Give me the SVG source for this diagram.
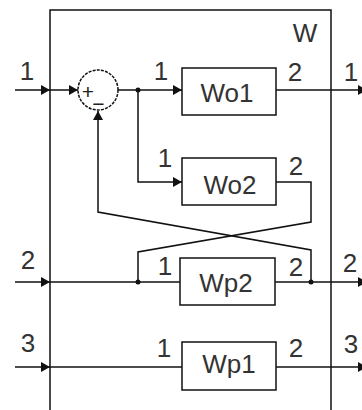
<svg xmlns="http://www.w3.org/2000/svg" width="362" height="410" viewBox="0 0 362 410">
<style>
.ln{fill:none;stroke:#111;stroke-width:1.5}
.bx{fill:#fff;stroke:#111;stroke-width:1.5}
.t{font-family:"Liberation Sans",Arial,sans-serif;font-size:26px;fill:#333;text-anchor:middle}
.s{font-family:"Liberation Sans",Arial,sans-serif;font-size:21px;fill:#222;text-anchor:middle}
.dot{fill:#111}
</style>
<defs>
<marker id="ar" markerUnits="userSpaceOnUse" markerWidth="10" markerHeight="11" refX="9" refY="5" orient="auto">
<path d="M0,0 L9,5 L0,10 z" fill="#111"/>
</marker>
</defs>
<rect width="362" height="410" fill="#fff"/>
<g id="frame">
<rect class="ln" x="50" y="10" width="281" height="420"/>
<text class="t" x="305" y="42">W</text>
</g>
<g id="connectors">
<path class="ln" d="M15,90 H50" marker-end="url(#ar)"/>
<path class="ln" d="M50,90 H78" marker-end="url(#ar)"/>
<path class="ln" d="M118,90 H182" marker-end="url(#ar)"/>
<path class="ln" d="M138,90 V182 H182" marker-end="url(#ar)"/>
<path class="ln" d="M276,90 H367" marker-end="url(#ar)"/>
<path class="ln" d="M276,182 H311 V222 L138,252 V282"/>
<path class="ln" d="M311,282 V250 L98,212 V111" marker-end="url(#ar)"/>
<path class="ln" d="M15,282 H50" marker-end="url(#ar)"/>
<path class="ln" d="M50,282 H180"/>
<path class="ln" d="M275,282 H367" marker-end="url(#ar)"/>
<path class="ln" d="M15,367 H50" marker-end="url(#ar)"/>
<path class="ln" d="M50,367 H182"/>
<path class="ln" d="M276,367 H367" marker-end="url(#ar)"/>
<circle class="dot" cx="138" cy="90" r="2.5"/>
<circle class="dot" cx="138" cy="282" r="2.5"/>
<circle class="dot" cx="311" cy="282" r="2.5"/>
<text class="t" x="27" y="80">1</text>
<text class="t" x="161" y="80">1</text>
<text class="t" x="295" y="81">2</text>
<text class="t" x="351" y="81">1</text>
<text class="t" x="165" y="167">1</text>
<text class="t" x="296" y="175">2</text>
<text class="t" x="28" y="269">2</text>
<text class="t" x="165" y="275">1</text>
<text class="t" x="296" y="276">2</text>
<text class="t" x="350" y="272">2</text>
<text class="t" x="28" y="352">3</text>
<text class="t" x="164" y="357">1</text>
<text class="t" x="296" y="357">2</text>
<text class="t" x="351" y="353">3</text>
</g>
<g id="sum">
<circle cx="98" cy="90" r="20" fill="#fff" stroke="#111" stroke-width="1.5" stroke-dasharray="3 1.2"/>
<text class="s" x="88" y="99">+</text>
<text class="s" x="98.5" y="111">−</text>
</g>
<g id="Wo1">
<rect class="bx" x="182" y="68" width="94" height="47"/>
<text class="t" x="227" y="102">Wo1</text>
</g>
<g id="Wo2">
<rect class="bx" x="182" y="158" width="94" height="47"/>
<text class="t" x="230" y="194">Wo2</text>
</g>
<g id="Wp2">
<rect class="bx" x="180" y="258" width="95" height="47"/>
<text class="t" x="226" y="292">Wp2</text>
</g>
<g id="Wp1">
<rect class="bx" x="182" y="342" width="94" height="48"/>
<text class="t" x="229" y="373">Wp1</text>
</g>
</svg>
